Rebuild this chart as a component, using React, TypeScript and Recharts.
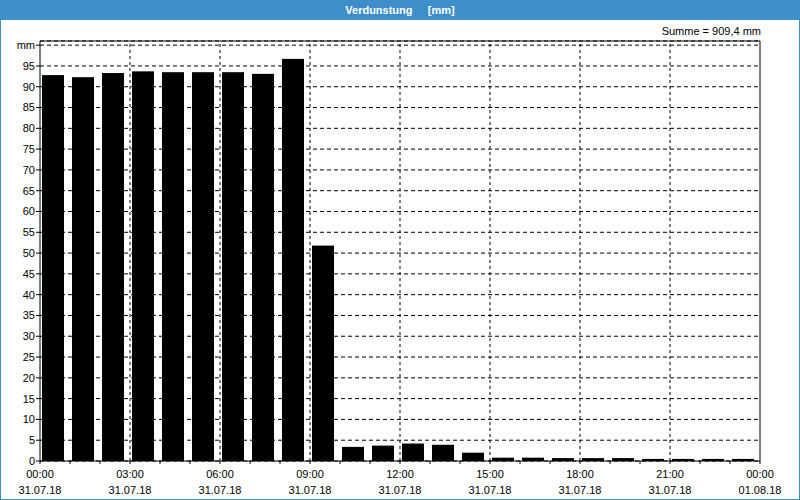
import React from "react";
import {
  BarChart, Bar, XAxis, YAxis, CartesianGrid, ReferenceLine,
} from "recharts";

// ─── Colors / fonts ──────────────────────────────────────────────────
const BLUE = "#3d8ec9";
const FONT = "'Liberation Sans', Arial, sans-serif";

// ─── Data ─────────────────────────────────────────────────────────────
const hours = [0, 1, 2, 3, 4, 5, 6, 7, 8, 9, 10, 11, 12, 13, 14, 15, 16, 17, 18, 19, 20, 21, 22, 23];
const evaporation = [
  92.8, 92.3, 93.3, 93.7, 93.5, 93.5, 93.5, 93.1, 96.7, 51.8, 3.4, 3.7,
  4.2, 3.9, 2.0, 0.8, 0.8, 0.7, 0.7, 0.7, 0.5, 0.5, 0.5, 0.5,
];

const hourTicks = [0, 1, 2, 3, 4, 5, 6, 7, 8, 9, 10, 11, 12, 13, 14, 15, 16, 17, 18, 19, 20, 21, 22, 23, 24];
const majorTicks = [0, 3, 6, 9, 12, 15, 18, 21, 24];
const timeLabels = ["00:00", "03:00", "06:00", "09:00", "12:00", "15:00", "18:00", "21:00", "00:00"];
const dateLabels = ["31.07.18", "31.07.18", "31.07.18", "31.07.18", "31.07.18", "31.07.18", "31.07.18", "31.07.18", "01.08.18"];
const gridHours = [3, 6, 9, 12, 15, 18, 21];

const yTicks = [0, 5, 10, 15, 20, 25, 30, 35, 40, 45, 50, 55, 60, 65, 70, 75, 80, 85, 90, 95, 100];
const Y_MAX = 101;

const data = hours.map((h, i) => ({ h, value: evaporation[i] }));

// ─── Parts ────────────────────────────────────────────────────────────
function TimeTick(props: any) {
  const { x, y, payload } = props;
  const i = majorTicks.indexOf(payload.value);
  if (i < 0) return null;
  return (
    <g>
      <text x={x} y={y + 12} textAnchor="middle" fill="#000" fontSize={11} fontFamily={FONT}>
        {timeLabels[i]}
      </text>
      <text x={x} y={y + 28} textAnchor="middle" fill="#000" fontSize={11} fontFamily={FONT}>
        {dateLabels[i]}
      </text>
    </g>
  );
}

// bars sit just right of the hour mark
const HourBar = (props: any) => (
  <rect x={props.x - 2} y={props.y} width={props.width} height={props.height} fill="#000" />
);

export default function App() {
  return (
    <div style={{ position: "fixed", left: 0, top: 0, width: 800, height: 500, background: "#fff", fontFamily: FONT }}>
      <div style={{ position: "absolute", left: 0, top: 0 }}>
        <BarChart width={800} height={500} data={data} margin={{ top: 41, right: 40, bottom: 0, left: 0 }}>
          <CartesianGrid xAxisId="num" yAxisId="left" vertical={false} stroke="#000" strokeDasharray="4 3" />
          <XAxis xAxisId="cat" dataKey="h" hide height={0} />
          <XAxis
            xAxisId="num"
            dataKey="h"
            type="number"
            domain={[0, 24]}
            ticks={hourTicks}
            interval={0}
            allowDataOverflow
            height={39}
            tickSize={3}
            tickMargin={2}
            axisLine={{ stroke: "#000" }}
            tickLine={{ stroke: "#000" }}
            tick={TimeTick}
          />
          <YAxis
            yAxisId="left"
            domain={[0, Y_MAX]}
            ticks={yTicks}
            interval={0}
            width={40}
            tickSize={4}
            tickMargin={1}
            axisLine={{ stroke: "#000" }}
            tickLine={{ stroke: "#000" }}
            tick={{ fill: "#000", fontSize: 11, fontFamily: FONT }}
            tickFormatter={(v) => (v === 100 ? "mm" : String(v))}
          />
          {gridHours.map((g) => (
            <ReferenceLine key={g} xAxisId="num" yAxisId="left" x={g} stroke="#000" strokeDasharray="3 3" />
          ))}
          {/* plot frame: top and right edges */}
          <ReferenceLine xAxisId="num" yAxisId="left" y={Y_MAX} stroke="#000" />
          <ReferenceLine xAxisId="num" yAxisId="left" x={24} stroke="#000" />
          <Bar xAxisId="cat" yAxisId="left" dataKey="value" barSize={22} fill="#000" shape={HourBar} isAnimationActive={false} />
        </BarChart>
      </div>
      <div
        style={{
          position: "absolute", left: 0, top: 0, width: 800, height: 20, background: BLUE,
          color: "#fff", fontWeight: "bold", fontSize: 11, lineHeight: "20px", textAlign: "center",
          whiteSpace: "pre",
        }}
      >
        {"Verdunstung     [mm]"}
      </div>
      <div style={{ position: "absolute", right: 39, top: 24, fontSize: 11, lineHeight: "14px", color: "#000" }}>
        Summe = 909,4 mm
      </div>
      <div style={{ position: "absolute", inset: 0, border: `1px solid ${BLUE}`, boxSizing: "border-box", pointerEvents: "none" }} />
    </div>
  );
}
